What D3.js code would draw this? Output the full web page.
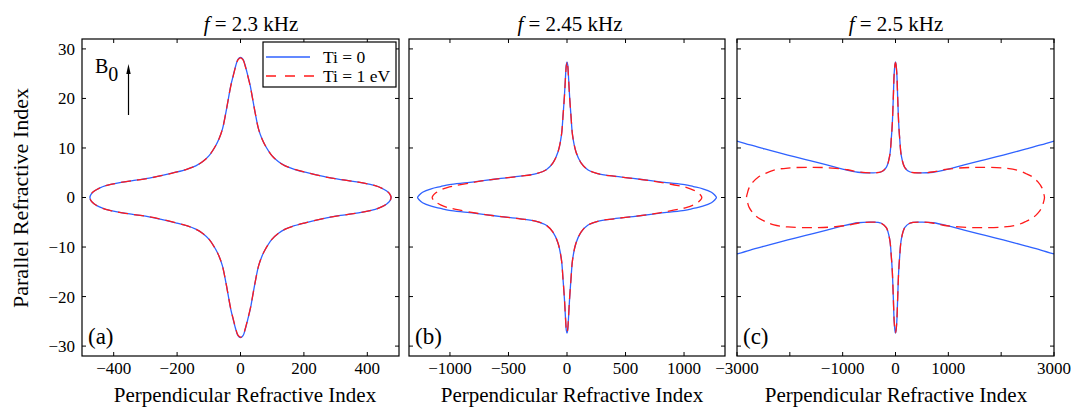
<!DOCTYPE html>
<html><head><meta charset="utf-8">
<script src="https://cdn.jsdelivr.net/npm/d3@7"></script>
<style>body{margin:0;background:#fff} text{font-family:"Liberation Serif","Times New Roman",serif;fill:#000}</style>
</head><body><svg id="c" width="1074" height="408"></svg>
<script>
// ---------- data ----------
const titles = ["2.3 kHz", "2.45 kHz", "2.5 kHz"];
const panelLabels = ["(a)", "(b)", "(c)"];
const legendLabels = ["Ti = 0", "Ti = 1 eV"];
const yTicks = [-30, -20, -10, 0, 10, 20, 30];
const xTicksA = [-400, -200, 0, 200, 400];
const xTicksB = [-1000, -500, 0, 500, 1000];
const xTicksC = [-3000, -2000, -1000, 0, 1000, 2000, 3000];
const xLabelsC = [-3000, -1000, 0, 1000, 3000];

// first-quadrant samples (perpendicular index, parallel index); curves are symmetric
const perpA = [0, 8, 15, 23, 31, 38, 46, 57, 68, 78, 99, 120, 141, 170, 204, 250, 288, 330, 372, 405, 425, 445, 460, 470, 475];
const parA  = [28.3, 27.9, 26.6, 24.6, 22.5, 20, 17.2, 13.8, 11.8, 10.5, 8.45, 7.2, 6.4, 5.7, 5.1, 4.4, 3.9, 3.5, 3.1, 2.7, 2.4, 1.9, 1.35, 0.8, 0];
const perpA_hot = [0, 8, 15, 23, 31, 38, 46, 57, 68, 78, 99, 120, 141, 170, 204, 250, 288, 330, 372, 405, 425, 445, 460, 470, 475];
const parA_hot  = [28.2, 27.8, 26.5, 24.5, 22.4, 20, 17.2, 13.8, 11.8, 10.5, 8.45, 7.2, 6.4, 5.7, 5.1, 4.4, 3.9, 3.5, 3.1, 2.7, 2.4, 1.9, 1.35, 0.8, 0];

const perpB = [0, 6, 11, 22, 34, 48, 77, 120, 177, 262, 400, 565, 700, 851, 1005, 1080, 1160, 1234, 1262, 1277];
const parB  = [27.4, 26.8, 25.2, 20.5, 16.5, 12.5, 9.2, 7.0, 5.6, 4.8, 4.3, 3.85, 3.45, 3.0, 2.6, 2.2, 1.75, 1.05, 0.5, 0];
const perpB_hot = [0, 6, 11, 22, 34, 48, 77, 120, 177, 262, 400, 565, 700, 800, 950, 1024, 1080, 1123, 1145, 1152];
const parB_hot  = [27.2, 26.6, 25.0, 20.4, 16.5, 12.5, 9.2, 7.0, 5.6, 4.8, 4.3, 3.85, 3.45, 3.05, 2.4, 2.0, 1.5, 0.9, 0.4, 0];

const perpC = [0, 10, 25, 42, 60, 80, 110, 174, 268, 458, 710, 1000, 1300, 1600, 1900, 2230, 2476, 2750, 3000];
const parC  = [27.4, 26.9, 25, 20, 15, 11.8, 8.45, 6.1, 5.2, 4.97, 5.1, 5.75, 6.6, 7.4, 8.2, 9.1, 9.8, 10.6, 11.4];
const perpC_hot = [0, 10, 25, 42, 60, 80, 110, 174, 268, 458, 700, 905, 1200, 1600, 2035, 2300, 2476, 2600, 2700, 2770, 2800, 2820];
const parC_hot  = [27.3, 26.8, 25, 20, 15, 11.8, 8.45, 6.1, 5.2, 4.97, 5.15, 5.6, 5.95, 6.1, 5.95, 5.55, 4.8, 4.1, 3.1, 2.0, 1.0, 0];

// ---------- drawing ----------
const BLUE = "#2f62ff", RED = "#ff1a1a";
const svg = d3.select("#c");
const yTop = 39, yBot = 356;

const panels = [
  {L: 82,  R: 399,  dom: [-500, 500],   ticks: xTicksA, labels: xTicksA, title: titles[0], tx: 251, lx: 245,
   cold: {p: perpA, q: parA, closed: true}, hot: {p: perpA_hot, q: parA_hot}},
  {L: 409, R: 725,  dom: [-1350, 1350], ticks: xTicksB, labels: xTicksB, title: titles[1], tx: 570, lx: 572,
   cold: {p: perpB, q: parB, closed: true}, hot: {p: perpB_hot, q: parB_hot}},
  {L: 737, R: 1054, dom: [-3000, 3000], ticks: xTicksC, labels: xLabelsC, title: titles[2], tx: 896, lx: 896,
   cold: {p: perpC, q: parC, closed: false}, hot: {p: perpC_hot, q: parC_hot}}
];

function closedPts(px, py) {
  const n = px.length, pts = [];
  for (let i = 0; i < n; i++) pts.push([px[i], py[i]]);
  for (let i = n - 2; i >= 0; i--) pts.push([px[i], -py[i]]);
  for (let i = 1; i < n; i++) pts.push([-px[i], -py[i]]);
  for (let i = n - 2; i >= 1; i--) pts.push([-px[i], py[i]]);
  return pts;
}
function branchPts(px, py, s) {
  const n = px.length, pts = [];
  for (let i = n - 1; i >= 1; i--) pts.push([-px[i], s * py[i]]);
  for (let i = 0; i < n; i++) pts.push([px[i], s * py[i]]);
  return pts;
}
const fmt = v => (v < 0 ? "\u2212" + Math.abs(v) : String(v));

panels.forEach((P, k) => {
  const x = d3.scaleLinear().domain(P.dom).range([P.L, P.R]);
  const y = d3.scaleLinear().domain([-32, 32]).range([yBot, yTop]);
  const g = svg.append("g");
  const cid = "clip" + k;
  svg.append("clipPath").attr("id", cid).append("rect")
    .attr("x", P.L).attr("y", yTop).attr("width", P.R - P.L).attr("height", yBot - yTop);

  const plot = g.append("g").attr("clip-path", `url(#${cid})`);
  const closedLine = d3.line().x(d => x(d[0])).y(d => y(d[1])).curve(d3.curveCatmullRomClosed);
  const openLine = d3.line().x(d => x(d[0])).y(d => y(d[1])).curve(d3.curveCatmullRom);

  if (P.cold.closed) {
    plot.append("path").attr("d", closedLine(closedPts(P.cold.p, P.cold.q)))
      .attr("fill", "none").attr("stroke", BLUE).attr("stroke-width", 1.3);
  } else {
    [1, -1].forEach(s => plot.append("path").attr("d", openLine(branchPts(P.cold.p, P.cold.q, s)))
      .attr("fill", "none").attr("stroke", BLUE).attr("stroke-width", 1.3));
  }
  plot.append("path").attr("d", closedLine(closedPts(P.hot.p, P.hot.q)))
    .attr("fill", "none").attr("stroke", RED).attr("stroke-width", 1.3).attr("stroke-dasharray", "10,6");

  // ticks (inward, all four sides)
  const tk = 4;
  P.ticks.forEach(t => {
    g.append("line").attr("x1", x(t)).attr("x2", x(t)).attr("y1", yBot).attr("y2", yBot - tk).attr("stroke", "#000");
    g.append("line").attr("x1", x(t)).attr("x2", x(t)).attr("y1", yTop).attr("y2", yTop + tk).attr("stroke", "#000");
  });
  yTicks.forEach(t => {
    g.append("line").attr("x1", P.L).attr("x2", P.L + tk).attr("y1", y(t)).attr("y2", y(t)).attr("stroke", "#000");
    g.append("line").attr("x1", P.R).attr("x2", P.R - tk).attr("y1", y(t)).attr("y2", y(t)).attr("stroke", "#000");
  });
  g.append("rect").attr("x", P.L).attr("y", yTop).attr("width", P.R - P.L).attr("height", yBot - yTop)
    .attr("fill", "none").attr("stroke", "#000").attr("stroke-width", 1.2);

  P.labels.forEach(t => {
    g.append("text").attr("x", x(t)).attr("y", 374).attr("text-anchor", "middle")
      .attr("font-size", 17).text(fmt(t));
  });
  if (k === 0) {
    yTicks.forEach(t => {
      g.append("text").attr("x", 75).attr("y", y(t)).attr("dy", "0.35em").attr("text-anchor", "end")
        .attr("font-size", 17).text(fmt(t));
    });
  }
  // title
  const tt = g.append("text").attr("x", P.tx).attr("y", 31).attr("text-anchor", "middle").attr("font-size", 21);
  tt.append("tspan").attr("font-style", "italic").text("f");
  tt.append("tspan").text(" = " + P.title);
  // x label
  g.append("text").attr("x", P.lx).attr("y", 402).attr("text-anchor", "middle").attr("font-size", 21)
    .text("Perpendicular Refractive Index");
  // panel label
  g.append("text").attr("x", P.L + 6).attr("y", 344).attr("font-size", 23).text(panelLabels[k]);
});

// y label
svg.append("text").attr("transform", "translate(28,198) rotate(-90)").attr("text-anchor", "middle")
  .attr("font-size", 22).text("Parallel Refractive Index");

// legend
const lg = svg.append("g");
lg.append("rect").attr("x", 263).attr("y", 42).attr("width", 133).attr("height", 45)
  .attr("fill", "#fff").attr("stroke", "#000").attr("stroke-width", 1.2);
lg.append("line").attr("x1", 266).attr("x2", 310).attr("y1", 57).attr("y2", 57).attr("stroke", BLUE).attr("stroke-width", 1.3);
lg.append("line").attr("x1", 266).attr("x2", 314).attr("y1", 76).attr("y2", 76).attr("stroke", RED).attr("stroke-width", 1.3).attr("stroke-dasharray", "10,9");
lg.append("text").attr("x", 323).attr("y", 63).attr("font-size", 17.5).text(legendLabels[0]);
lg.append("text").attr("x", 323).attr("y", 82).attr("font-size", 17.5).text(legendLabels[1]);

// B0 arrow
const b = svg.append("text").attr("x", 95).attr("y", 73).attr("font-size", 20);
b.append("tspan").text("B");
b.append("tspan").attr("dy", 8).text("0");
svg.append("line").attr("x1", 128.5).attr("x2", 128.5).attr("y1", 115).attr("y2", 70).attr("stroke", "#000").attr("stroke-width", 1.2);
svg.append("path").attr("d", "M128.5,64 L126.3,74 L130.7,74 Z").attr("fill", "#000");
</script></body></html>
